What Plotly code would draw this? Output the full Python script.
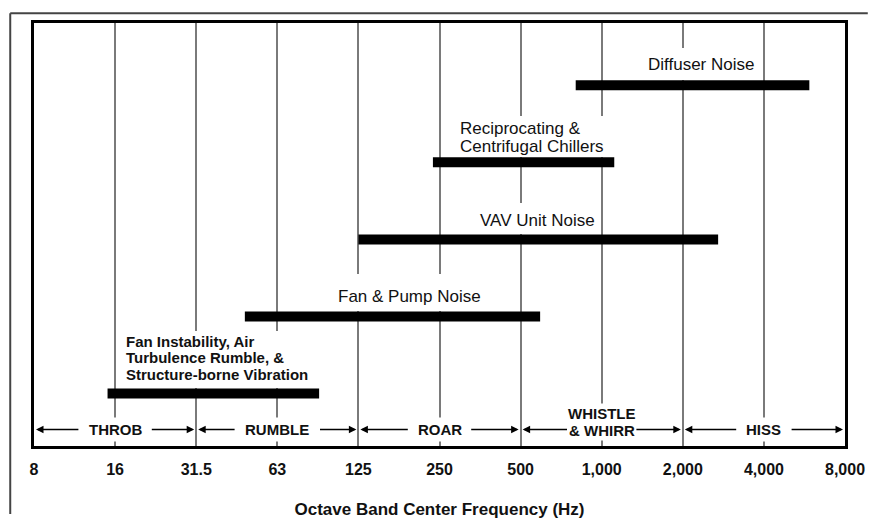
import math
import plotly.graph_objects as go

# ---------------- data ----------------
tick_hz = [8, 16, 32, 64, 128, 256, 512, 1024, 2048, 4096, 8192]   # octave band positions
tick_labels = ["8", "16", "31.5", "63", "125", "250", "500", "1,000", "2,000", "4,000", "8,000"]

source_names = [
    "Diffuser Noise",
    "Reciprocating & Centrifugal Chillers",
    "VAV Unit Noise",
    "Fan & Pump Noise",
    "Fan Instability, Air Turbulence Rumble, & Structure-borne Vibration",
]
source_start_hz = [820, 242, 128, 48.5, 15]
source_end_hz = [6040, 1140, 2770, 605, 91.5]
source_level = [5, 4, 3, 2, 1]
source_label_lines = [
    ["Diffuser Noise"],
    ["Reciprocating &", "Centrifugal Chillers"],
    ["VAV Unit Noise"],
    ["Fan & Pump Noise"],
    ["Fan Instability, Air", "Turbulence Rumble, &", "Structure-borne Vibration"],
]

band_label_lines = [["THROB"], ["RUMBLE"], ["ROAR"], ["WHISTLE", "& WHIRR"], ["HISS"]]
band_lo_hz = [8, 32, 128, 512, 2048]
band_hi_hz = [32, 128, 512, 2048, 8192]
band_center_hz = [16, 64, 256, 1024, 4096]

# ---------------- layout constants ----------------
W, H = 877, 529
ML, MR, MT, MB = 34, 24, 23, 71
FONT = "Liberation Sans, Arial, Helvetica, sans-serif"
plot_w = W - ML - MR
plot_h = H - MT - MB
oct_px = plot_w / math.log2(tick_hz[-1] / tick_hz[0])
Y_RANGE = [0.319, 5.808]
ARROW_Y = 0.533

# label placement (x anchor in Hz, anchor side, per-line vertical offsets in px above bar)
label_x_hz = [2402, 302, 592, 198.6, 17.4]
label_xanchor = ["center", "left", "center", "center", "left"]
label_yshift = [[21], [34, 16], [19], [20], [52, 36, 19]]
label_bold = [False, False, False, False, True]
label_size = [17, 17, 17, 17, 15]
# white backing boxes behind labels
box_x_hz = [2402, 555, 592, 198.6, 37.6]
box_w = [115, 150, 125, 152, 190]
box_h = [32, 41, 31, 37, 57]
box_yshift = [21, 25.5, 20.5, 23.5, 34]

band_half_w = [26, 32, 21, 34, 17]
band_gap = [10, 10, 10, 0, 10]

fig = go.Figure()

# bars
for name, s, e, lvl in zip(source_names, source_start_hz, source_end_hz, source_level):
    fig.add_trace(go.Scatter(
        x=[s, e], y=[lvl, lvl], mode="lines", name=name,
        line=dict(color="black", width=10), hoverinfo="skip", showlegend=False,
    ))

annotations = []

# label backing boxes
for i, lvl in enumerate(source_level):
    annotations.append(dict(
        x=math.log10(box_x_hz[i]), y=lvl, xref="x", yref="y", text=" ",
        showarrow=False, width=box_w[i], height=box_h[i], bgcolor="white",
        borderpad=0, borderwidth=0, yshift=box_yshift[i], xanchor="center", yanchor="middle",
    ))

# label text lines
for i, lvl in enumerate(source_level):
    for line, ys in zip(source_label_lines[i], label_yshift[i]):
        annotations.append(dict(
            x=math.log10(label_x_hz[i]), y=lvl, xref="x", yref="y", text=line,
            showarrow=False, xanchor=label_xanchor[i], yanchor="middle", yshift=ys,
            borderpad=0,
            font=dict(family=FONT, size=label_size[i], color="#111",
                      weight="bold" if label_bold[i] else "normal"),
        ))

# band labels and arrows
for i in range(len(band_label_lines)):
    lines = band_label_lines[i]
    if len(lines) == 1:
        annotations.append(dict(
            x=math.log10(band_center_hz[i]), y=ARROW_Y, xref="x", yref="y", text=lines[0],
            showarrow=False, bgcolor="white", borderpad=3,
            font=dict(family=FONT, size=15, color="#111", weight="bold"),
        ))
    else:
        for line, ys in zip(lines, [16, -1]):
            annotations.append(dict(
                x=math.log10(band_center_hz[i]), y=ARROW_Y, xref="x", yref="y", text=line,
                showarrow=False, bgcolor="white", borderpad=1, yshift=ys,
                font=dict(family=FONT, size=15, color="#111", weight="bold"),
            ))
    tail = oct_px - band_half_w[i] - band_gap[i]
    for head_hz, direction in ((band_lo_hz[i], 1), (band_hi_hz[i], -1)):
        annotations.append(dict(
            x=math.log10(head_hz), y=ARROW_Y, xref="x", yref="y", text="",
            showarrow=True, ax=direction * tail, ay=0, arrowhead=2, arrowsize=1,
            arrowwidth=1.5, arrowcolor="black", standoff=2,
        ))

# outer picture frame (top and left edges only, kept inside the page)
fx0 = (10 - ML) / plot_w
fx1 = (W - 1 - ML) / plot_w
fy_top = 1 + (MT - 13) / plot_h
fy_bot = -(MB - 1) / plot_h
frame = [
    dict(type="line", xref="paper", yref="paper", x0=fx0, x1=fx1, y0=fy_top, y1=fy_top,
         line=dict(color="#444", width=2), layer="below"),
    dict(type="line", xref="paper", yref="paper", x0=fx0, x1=fx0, y0=fy_bot, y1=fy_top,
         line=dict(color="#444", width=2), layer="below"),
]

fig.update_layout(
    width=W, height=H,
    margin=dict(l=ML, r=MR, t=MT, b=MB),
    paper_bgcolor="white", plot_bgcolor="white",
    font=dict(family=FONT, color="#111"),
    annotations=annotations,
    shapes=frame,
    xaxis=dict(
        type="log", range=[math.log10(tick_hz[0]), math.log10(tick_hz[-1])],
        tickmode="array", tickvals=tick_hz, ticktext=tick_labels,
        showgrid=True, gridcolor="#7a7a7a", gridwidth=1.5,
        showline=True, linecolor="black", linewidth=2.5, mirror=True,
        ticks="outside", ticklen=7, tickcolor="rgba(0,0,0,0)", zeroline=False,
        tickfont=dict(family=FONT, size=16, color="#111", weight="bold"),
        title=dict(text="Octave Band Center Frequency (Hz)", standoff=27,
                   font=dict(family=FONT, size=17, color="#111", weight="bold")),
    ),
    yaxis=dict(
        range=Y_RANGE, showgrid=False, showticklabels=False, zeroline=False,
        showline=True, linecolor="black", linewidth=2.5, mirror=True, ticks="",
    ),
)

fig.write_html(
    "out.html",
    config={"displayModeBar": False},
    post_script="document.body.style.margin='0';document.body.style.overflow='hidden';",
)
